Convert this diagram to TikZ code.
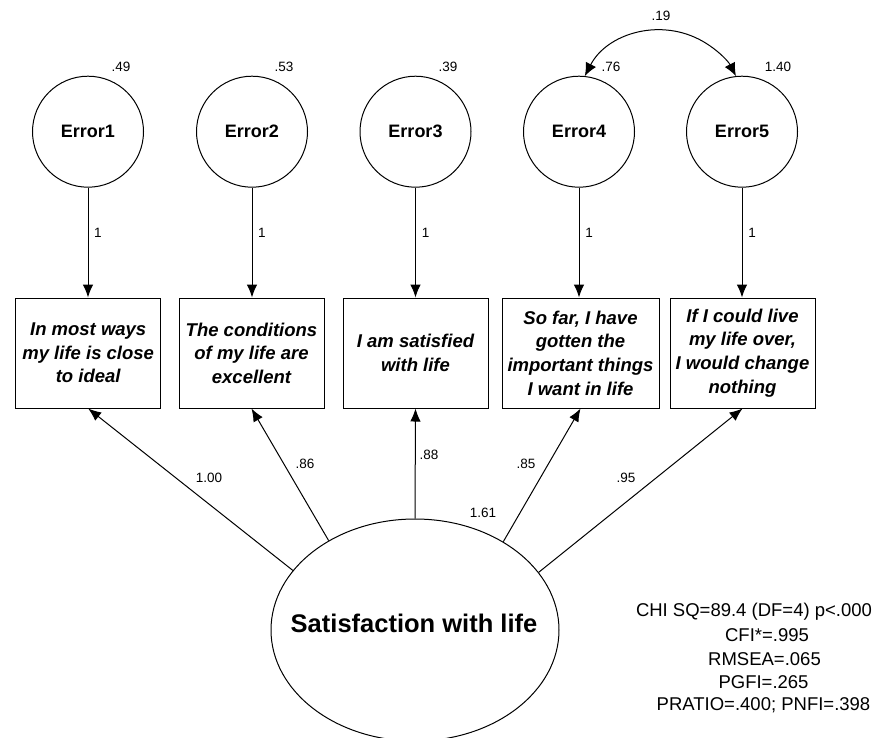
\documentclass[tikz,border=0pt]{standalone}
\usepackage{fontspec}
\setmainfont{Liberation Sans}
\usetikzlibrary{arrows.meta,shapes.geometric}
\begin{document}
\begin{tikzpicture}[x=1pt,y=-1pt,
  err/.style={circle,draw,line width=1pt,minimum size=111pt,inner sep=0pt,font=\fontsize{18}{21}\selectfont\bfseries},
  obs/.style={draw,line width=1pt,minimum height=110pt,inner sep=0pt,align=center,font=\fontsize{18.5}{23.6}\selectfont\bfseries\itshape},
  lat/.style={ellipse,draw,line width=1pt,minimum width=288pt,minimum height=222pt,inner sep=0pt},
  lbl/.style={font=\fontsize{13.5}{15}\selectfont,inner sep=0pt},
  stat/.style={font=\fontsize{18.5}{22}\selectfont,inner sep=0pt},
  arr/.style={line width=1pt,-{Latex[length=13pt,width=10.5pt]}},
  darr/.style={line width=1pt,{Latex[length=13pt,width=11.5pt]}-{Latex[length=13pt,width=11.5pt]}}
]
\useasboundingbox (0,0) rectangle (878,737);
\clip (0,0) rectangle (878,737);
\fill[white] (0,0) rectangle (878,737);

% error terms
\node[err] (e1) at (88,131.7) {Error1};
\node[err] (e2) at (252,131.7) {Error2};
\node[err] (e3) at (415.5,131.7) {Error3};
\node[err] (e4) at (579,131.7) {Error4};
\node[err] (e5) at (742,131.7) {Error5};

% variances
\node[lbl] (v1) at (121,67) {.49};
\node[lbl] (v2) at (284,67) {.53};
\node[lbl] (v3) at (448,67) {.39};
\node[lbl] (v4) at (611,67) {.76};
\node[lbl] (v5) at (778,67) {1.40};

% observed items
\node[obs,minimum width=145pt] (b1) at (88.2,353) {In most ways\\my life is close\\to ideal};
\node[obs,minimum width=145pt] (b2) at (251.5,353) {The conditions\\of my life are\\excellent};
\node[obs,minimum width=145pt] (b3) at (415.5,353) {I am satisfied\\with life};
\node[obs,minimum width=157pt] (b4) at (580.5,353) {So far, I have\\gotten the\\important things\\I want in life};
\node[obs,minimum width=145pt] (b5) at (742.5,353) {If I could live\\my life over,\\I would change\\nothing};

% latent factor
\node[lat] (sat) at (415,630) {};
\node[font=\fontsize{25.5}{30}\selectfont\bfseries,inner sep=0pt] (satl) at (414,623) {Satisfaction with life};

% error -> item arrows
\foreach \i in {1,...,5}{
  \draw[arr] (e\i.south) -- (e\i.south |- b\i.north);
}
\node[lbl] (w1) at (98,233) {1};
\node[lbl] (w2) at (262,233) {1};
\node[lbl] (w3) at (425.5,233) {1};
\node[lbl] (w4) at (589,233) {1};
\node[lbl] (w5) at (752,233) {1};

% covariance
\draw[darr] (e4.84) arc[start angle=-152.7,end angle=-27.3,radius=85];
\node[lbl] (c45) at (661,16) {.19};

% loadings
\draw[arr] (sat.154.5) -- (b1.south);
\draw[arr] (sat.134.5) -- (b2.south);
\draw[arr] (sat.north) -- (b3.south);
\draw[arr] (sat.45.5) -- (b4.south);
\draw[arr] (sat.25.5) -- (b5.south);
\node[lbl] (l1) at (209,478) {1.00};
\node[lbl] (l2) at (305,464) {.86};
\node[lbl] (l3) at (429,455) {.88};
\node[lbl] (l4) at (526,464) {.85};
\node[lbl] (l5) at (626,478) {.95};
\node[lbl] (fv) at (483,513) {1.61};

% fit statistics
\node[stat] (s1) at (754,612) {CHI SQ=89.4 (DF=4) p<.000};
\node[stat] (s2) at (767,635) {CFI*=.995};
\node[stat] (s3) at (764.5,659) {RMSEA=.065};
\node[stat] (s4) at (763.5,682) {PGFI=.265};
\node[stat] (s5) at (763.5,705) {PRATIO=.400; PNFI=.398};
\end{tikzpicture}
\end{document}
